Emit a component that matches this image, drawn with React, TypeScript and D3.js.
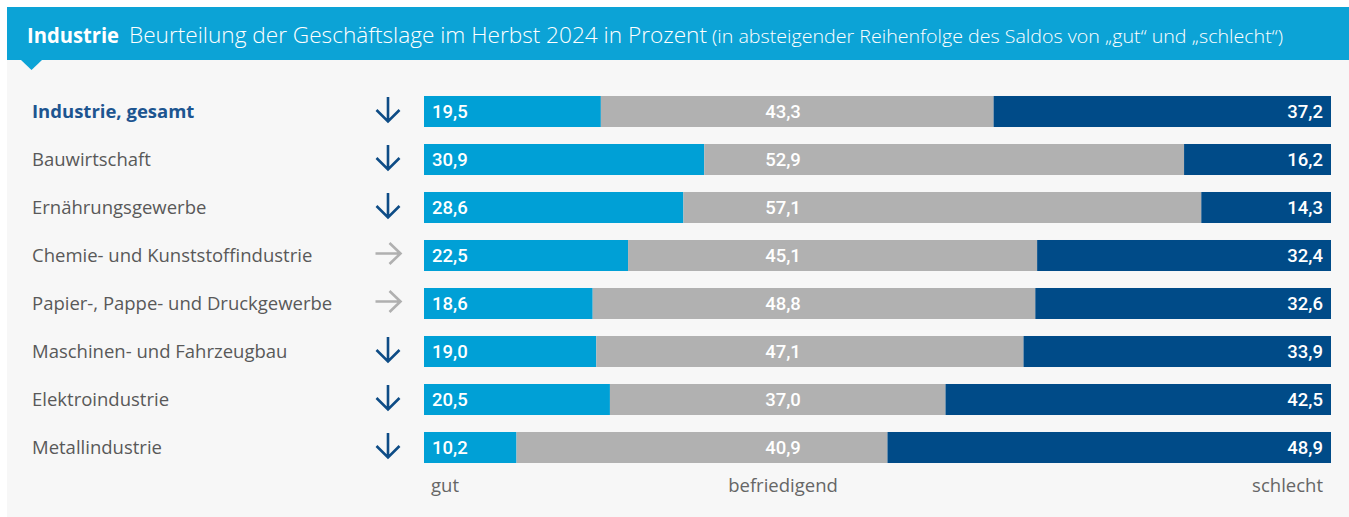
import React from "react";
import * as d3 from "d3";

const categories = [
  "Industrie, gesamt",
  "Bauwirtschaft",
  "Ernährungsgewerbe",
  "Chemie- und Kunststoffindustrie",
  "Papier-, Pappe- und Druckgewerbe",
  "Maschinen- und Fahrzeugbau",
  "Elektroindustrie",
  "Metallindustrie",
];
const gut = [19.5, 30.9, 28.6, 22.5, 18.6, 19.0, 20.5, 10.2];
const befriedigend = [43.3, 52.9, 57.1, 45.1, 48.8, 47.1, 37.0, 40.9];
const schlecht = [37.2, 16.2, 14.3, 32.4, 32.6, 33.9, 42.5, 48.9];
const trends = ["down", "down", "down", "right", "right", "down", "down", "down"];
const axisLabels = ["gut", "befriedigend", "schlecht"];
const titleBold = "Industrie";
const titleMain = "Beurteilung der Geschäftslage im Herbst 2024 in Prozent";
const titleSub = "(in absteigender Reihenfolge des Saldos von „gut“ und „schlecht“)";

const W = 1349;
const H = 517;
const fmt = (v: number) => v.toFixed(1).replace(".", ",");

export default function App() {
  const x = d3.scaleLinear().domain([0, 100]).range([424, 1331]);
  const y = d3
    .scaleBand<number>()
    .domain(d3.range(categories.length))
    .range([87.5, 471.5])
    .paddingInner(0.354)
    .paddingOuter(0.177);
  const bh = y.bandwidth();
  const labelFont = "'Open Sans', 'Noto Sans', sans-serif";
  const numFont = "Roboto, 'Noto Sans', sans-serif";
  const befCenter = 783;

  return (
    <svg
      width={W}
      height={H}
      style={{ position: "absolute", left: 0, top: 0, display: "block" }}
    >
      <rect x={0} y={0} width={W} height={H} fill="#ffffff" />
      <rect x={7} y={60} width={W - 7} height={H - 60} fill="#f7f7f7" />
      <rect x={7} y={7} width={W - 7} height={53} fill="#0ca3d6" />
      <path d="M21,60 L42,60 L31.5,70 Z" fill="#0ca3d6" />
      <text
        x={27}
        y={43}
        fill="#ffffff"
        fontFamily={labelFont}
        fontSize={22}
        fontWeight={700}
        textLength={92}
        lengthAdjust="spacingAndGlyphs"
      >
        {titleBold}
      </text>
      <text
        x={129}
        y={43}
        fill="#ffffff"
        fontFamily={labelFont}
        fontSize={22}
        fontWeight={300}
        textLength={578}
        lengthAdjust="spacingAndGlyphs"
      >
        {titleMain}
      </text>
      <text
        x={712}
        y={43}
        fill="#ffffff"
        fontFamily={labelFont}
        fontSize={18}
        fontWeight={300}
        textLength={571}
        lengthAdjust="spacingAndGlyphs"
      >
        {titleSub}
      </text>

      {categories.map((c, i) => {
        const y0 = y(i)!;
        const cy = y0 + bh / 2;
        const g0 = x(0);
        const g1 = x(gut[i]);
        const b1 = x(gut[i] + befriedigend[i]);
        const s1 = x(100);
        const first = i === 0;
        const down = trends[i] === "down";
        const ax = 388;
        const ay = cy - 2;
        return (
          <g key={c}>
            <text
              x={32}
              y={cy + 6.5}
              fontSize={18.5}
              fontFamily={labelFont}
              fontWeight={first ? 700 : 400}
              fill={first ? "#1d5590" : "#595959"}
            >
              {c}
            </text>
            {down ? (
              <path
                d={`M${ax},${ay - 12.5} L${ax},${ay + 12} M${ax - 11.5},${ay + 0.5} L${ax},${ay + 12} L${ax + 11.5},${ay + 0.5}`}
                stroke="#0e4c86"
                strokeWidth={2.6}
                fill="none"
              />
            ) : (
              <path
                d={`M${ax - 12.5},${ay} L${ax + 12.5},${ay} M${ax + 1.5},${ay - 10.5} L${ax + 12.5},${ay} L${ax + 1.5},${ay + 10.5}`}
                stroke="#b0b0b0"
                strokeWidth={2.6}
                fill="none"
              />
            )}
            <rect x={g0} y={y0} width={g1 - g0} height={bh} fill="#00a0d6" />
            <rect x={g1} y={y0} width={b1 - g1} height={bh} fill="#b1b1b1" />
            <rect x={b1} y={y0} width={s1 - b1} height={bh} fill="#004b88" />
            <text
              x={g0 + 8}
              y={cy + 6.5}
              fontSize={18.5}
              fontFamily={numFont}
              fontWeight={500}
              fill="#ffffff"
            >
              {fmt(gut[i])}
            </text>
            <text
              x={befCenter}
              y={cy + 6.5}
              fontSize={18.5}
              fontFamily={numFont}
              fontWeight={500}
              fill="#ffffff"
              textAnchor="middle"
            >
              {fmt(befriedigend[i])}
            </text>
            <text
              x={s1 - 8}
              y={cy + 6.5}
              fontSize={18.5}
              fontFamily={numFont}
              fontWeight={500}
              fill="#ffffff"
              textAnchor="end"
            >
              {fmt(schlecht[i])}
            </text>
          </g>
        );
      })}

      <text x={431} y={492} fontSize={18.5} fontFamily={labelFont} fill="#666666">
        {axisLabels[0]}
      </text>
      <text
        x={befCenter}
        y={492}
        fontSize={18.5}
        fontFamily={labelFont}
        fill="#666666"
        textAnchor="middle"
      >
        {axisLabels[1]}
      </text>
      <text
        x={1323}
        y={492}
        fontSize={18.5}
        fontFamily={labelFont}
        fill="#666666"
        textAnchor="end"
      >
        {axisLabels[2]}
      </text>
    </svg>
  );
}
